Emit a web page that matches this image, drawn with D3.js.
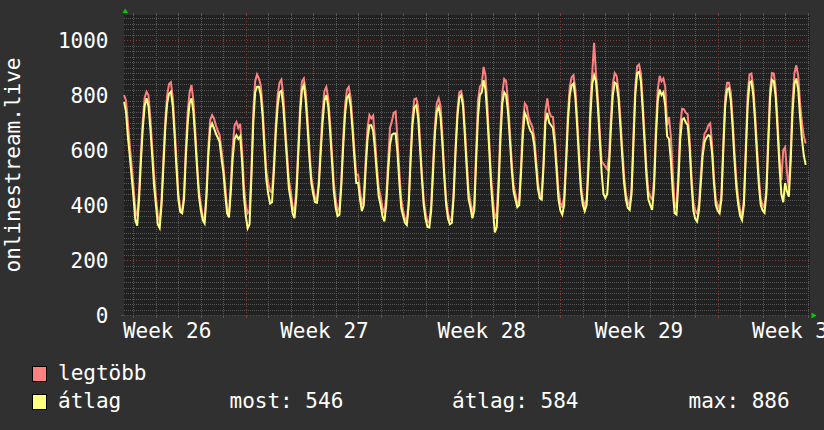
<!DOCTYPE html>
<html>
<head>
<meta charset="utf-8">
<script src="https://cdn.jsdelivr.net/npm/d3@7"></script>
<style>
  body { margin: 0; background: #303030; }
  svg text { font-family: "DejaVu Sans Mono", monospace; font-size: 21px; fill: #fff; }
</style>
</head>
<body>
<div id="chart"></div>
<script>
// samples every 2 hours, hour 0 = first midnight on the plot
const startHour = -10, stepHours = 2;

// "legtöbb" (max) series, 5 samples before the first midnight then 12 per day
const legtobb = [
  800, 780, 700, 620, 545,
  470, 380, 360, 450, 590, 710, 790, 812, 800, 720, 610, 510,
  430, 360, 345, 420, 570, 710, 800, 840, 846, 790, 680, 560,
  440, 385, 375, 440, 610, 740, 810, 836, 780, 670, 550, 450,
  400, 360, 339, 450, 610, 710, 727, 715, 690, 670, 655, 600,
  545, 470, 390, 365, 480, 610, 690, 702, 680, 695, 600, 470,
  400, 370, 380, 530, 740, 850, 875, 860, 835, 750, 630, 520,
  480, 450, 445, 550, 690, 800, 845, 856, 800, 690, 590, 490,
  450, 395, 375, 460, 610, 760, 850, 860, 810, 710, 600, 500,
  460, 425, 420, 490, 620, 740, 815, 830, 790, 700, 590, 480,
  420, 380, 390, 490, 640, 760, 820, 830, 790, 700, 600, 510,
  510, 450, 400, 430, 560, 680, 727, 715, 725, 640, 540, 460,
  430, 390, 370, 430, 560, 680, 705, 735, 740, 640, 520, 420,
  380, 350, 340, 420, 580, 720, 785, 788, 760, 640, 520, 420,
  370, 340, 335, 400, 550, 690, 770, 788, 760, 650, 520, 420,
  370, 345, 350, 450, 610, 740, 810, 815, 780, 680, 560, 450,
  410, 370, 400, 600, 780, 830, 840, 902, 870, 760, 630, 500,
  420, 350, 370, 500, 680, 810, 858, 850, 780, 670, 560, 470,
  440, 405, 415, 550, 700, 770, 760, 720, 700, 685, 650, 570,
  480, 440, 430, 560, 740, 788, 740, 722, 720, 650, 550, 450,
  410, 390, 430, 570, 730, 830, 865, 872, 820, 710, 590, 470,
  420, 395, 420, 570, 770, 880, 990, 880, 790, 670, 560, 550,
  540, 530, 580, 720, 840, 880, 870, 820, 720, 610, 510, 440,
  410, 400, 460, 650, 830, 905, 911, 880, 770, 650, 530, 450,
  430, 420, 490, 680, 820, 870, 850, 860, 830, 690, 720, 650,
  520, 400, 390, 520, 690, 750, 748, 735, 730, 640, 510, 410,
  380, 370, 400, 510, 610, 660, 670, 690, 697, 620, 500, 420,
  400, 385, 440, 620, 790, 845, 845, 810, 710, 590, 490, 420,
  380, 360, 420, 610, 800, 875, 878, 830, 730, 610, 500, 420,
  400, 390, 460, 650, 820, 880, 878, 820, 700, 570, 490, 600,
  610, 520, 460, 600, 780, 880, 908, 870, 770, 700, 650, 624
];

// "átlag" (average) series
const atlag = [
  775, 740, 650, 580, 505,
  430, 345, 325, 420, 560, 680, 760, 788, 760, 680, 580, 470,
  400, 330, 316, 400, 540, 680, 770, 805, 812, 760, 650, 530,
  420, 375, 370, 420, 580, 700, 770, 788, 740, 640, 530, 430,
  380, 345, 333, 430, 580, 680, 697, 680, 660, 645, 630, 570,
  520, 440, 370, 355, 450, 570, 640, 654, 640, 650, 560, 430,
  360, 315, 330, 500, 700, 810, 830, 830, 800, 720, 600, 490,
  440, 405, 410, 520, 660, 760, 810, 815, 760, 660, 560, 460,
  420, 370, 352, 430, 580, 730, 820, 836, 780, 680, 570, 480,
  440, 410, 408, 470, 590, 700, 780, 800, 760, 670, 560, 450,
  390, 360, 365, 470, 610, 730, 790, 800, 760, 670, 570, 480,
  480, 420, 378, 400, 530, 640, 690, 690, 670, 600, 510, 430,
  400, 360, 340, 400, 520, 620, 655, 660, 660, 590, 480, 390,
  360, 335, 327, 400, 560, 690, 755, 763, 720, 610, 500, 400,
  350, 320, 318, 380, 520, 660, 740, 757, 720, 620, 500, 400,
  350, 330, 335, 430, 590, 720, 790, 800, 760, 650, 530, 420,
  390, 352, 380, 560, 720, 800, 810, 854, 820, 720, 600, 470,
  380, 300, 320, 460, 640, 770, 810, 800, 740, 640, 530, 450,
  420, 392, 400, 520, 660, 735, 720, 690, 670, 660, 620, 540,
  460, 425, 420, 540, 700, 735, 700, 690, 680, 620, 520, 420,
  380, 365, 400, 540, 700, 800, 835, 842, 790, 680, 560, 450,
  400, 378, 400, 530, 720, 840, 872, 850, 760, 640, 520, 440,
  425, 440, 540, 680, 800, 845, 840, 790, 690, 580, 480, 420,
  390, 382, 440, 620, 800, 880, 884, 850, 740, 620, 500, 420,
  400, 382, 460, 640, 780, 820, 800, 810, 760, 650, 640, 560,
  450, 370, 365, 480, 640, 710, 715, 700, 690, 610, 480, 380,
  350, 340, 380, 480, 580, 630, 645, 654, 650, 590, 480, 400,
  380, 370, 420, 600, 760, 820, 825, 780, 680, 560, 460, 400,
  360, 345, 400, 580, 760, 845, 850, 800, 700, 580, 470, 400,
  380, 372, 440, 620, 790, 855, 850, 790, 670, 540, 440, 410,
  480, 450, 430, 560, 740, 840, 860, 820, 720, 640, 580, 546
];

const yTicks = [0, 200, 400, 600, 800, 1000];
const weekLabels = ["Week 26", "Week 27", "Week 28", "Week 29", "Week 30"];
const seriesNames = ["legtöbb", "átlag"];
const statLabels = ["most: 546", "átlag: 584", "max: 886"];

const width = 824, height = 430;
const plotLeft = 124, plotRight = 810, plotTop = 15, plotBottom = 315;

const x = d3.scaleLinear().domain([-10.1, 722.6]).range([plotLeft, plotRight]);
const y = d3.scaleLinear().domain([0, 1091]).range([plotBottom, plotTop]);

const svg = d3.select("#chart").append("svg")
    .attr("width", width)
    .attr("height", height)
    .style("display", "block");

svg.append("rect").attr("width", width).attr("height", height).attr("fill", "#303030");
svg.append("rect")
    .attr("x", plotLeft).attr("y", plotTop)
    .attr("width", plotRight - plotLeft).attr("height", plotBottom - plotTop)
    .attr("fill", "#212121");

const minorCol = "#555555", majorCol = "#843838";

// horizontal grid
const hLines = d3.range(0, 1091, 20);
svg.append("g").selectAll("line").data(hLines).join("line")
    .attr("x1", plotLeft).attr("x2", plotRight)
    .attr("y1", d => Math.round(y(d)) + 0.5).attr("y2", d => Math.round(y(d)) + 0.5)
    .attr("stroke", d => d % 200 === 0 ? majorCol : minorCol)
    .attr("stroke-dasharray", d => d % 200 === 0 ? "1,2" : "1,1");

// vertical grid: days and week starts (Monday = day 5, 12, 19, 26)
const days = d3.range(0, 723, 24);
const isWeek = h => ((h / 24) - 5) % 7 === 0;
const vg = svg.append("g");
vg.selectAll("line.v").data(days).join("line").attr("class", "v")
    .attr("x1", d => Math.round(x(d)) + 0.5).attr("x2", d => Math.round(x(d)) + 0.5)
    .attr("y1", plotTop).attr("y2", plotBottom)
    .attr("stroke", d => isWeek(d) ? majorCol : minorCol)
    .attr("stroke-dasharray", d => isWeek(d) ? "1,2" : "1,1");
// small solid ticks outside the canvas
vg.selectAll("line.tb").data(days).join("line").attr("class", "tb")
    .attr("x1", d => Math.round(x(d)) + 0.5).attr("x2", d => Math.round(x(d)) + 0.5)
    .attr("y1", plotBottom).attr("y2", plotBottom + 3)
    .attr("stroke", d => isWeek(d) ? majorCol : minorCol);
vg.selectAll("line.tt").data(days).join("line").attr("class", "tt")
    .attr("x1", d => Math.round(x(d)) + 0.5).attr("x2", d => Math.round(x(d)) + 0.5)
    .attr("y1", plotTop - 2).attr("y2", plotTop)
    .attr("stroke", d => isWeek(d) ? majorCol : minorCol);
svg.append("line")
    .attr("x1", plotLeft - 3).attr("x2", plotLeft).attr("y1", plotBottom + 0.5).attr("y2", plotBottom + 0.5)
    .attr("stroke", minorCol);

// series lines
const line = d3.line()
    .x((d, i) => x(startHour + i * stepHours))
    .y(d => y(d));

svg.append("path").datum(legtobb)
    .attr("d", line).attr("fill", "none")
    .attr("stroke", "#ff8080").attr("stroke-width", 2);
svg.append("path").datum(atlag)
    .attr("d", line).attr("fill", "none")
    .attr("stroke", "#ffff80").attr("stroke-width", 2);

// axis arrows
svg.append("path").attr("d", "M125.2,8.5L122.5,13L128,13Z").attr("fill", "#00cc00");
svg.append("path").attr("d", "M811.5,312.5L816.5,315.5L811.5,318.5Z").attr("fill", "#00cc00");

// y labels
svg.append("g").selectAll("text").data(yTicks).join("text")
    .attr("x", 108.5).attr("y", d => y(d) + 7.5)
    .attr("text-anchor", "end")
    .text(d => d);

// x labels, centred in each week
svg.append("g").selectAll("text").data(weekLabels).join("text")
    .attr("x", (d, i) => x(36 + 168 * i))
    .attr("y", 338)
    .attr("text-anchor", "middle")
    .text(d => d);

// y title
svg.append("text")
    .attr("transform", "translate(20,165) rotate(-90)")
    .attr("text-anchor", "middle")
    .text("onlinestream.live");

// legend
const legendCols = ["#ff8080", "#ffff80"];
const lg = svg.append("g");
seriesNames.forEach((name, i) => {
  lg.append("rect")
      .attr("x", 32.5).attr("y", 366.5 + i * 28)
      .attr("width", 14).attr("height", 15)
      .attr("fill", legendCols[i]).attr("stroke", "#000");
  lg.append("text")
      .attr("x", 58).attr("y", 379.5 + i * 28)
      .text(name);
});
const statX = [229.5, 452, 688.5];
statLabels.forEach((s, i) => {
  lg.append("text").attr("x", statX[i]).attr("y", 407.5).text(s);
});
</script>
</body>
</html>
